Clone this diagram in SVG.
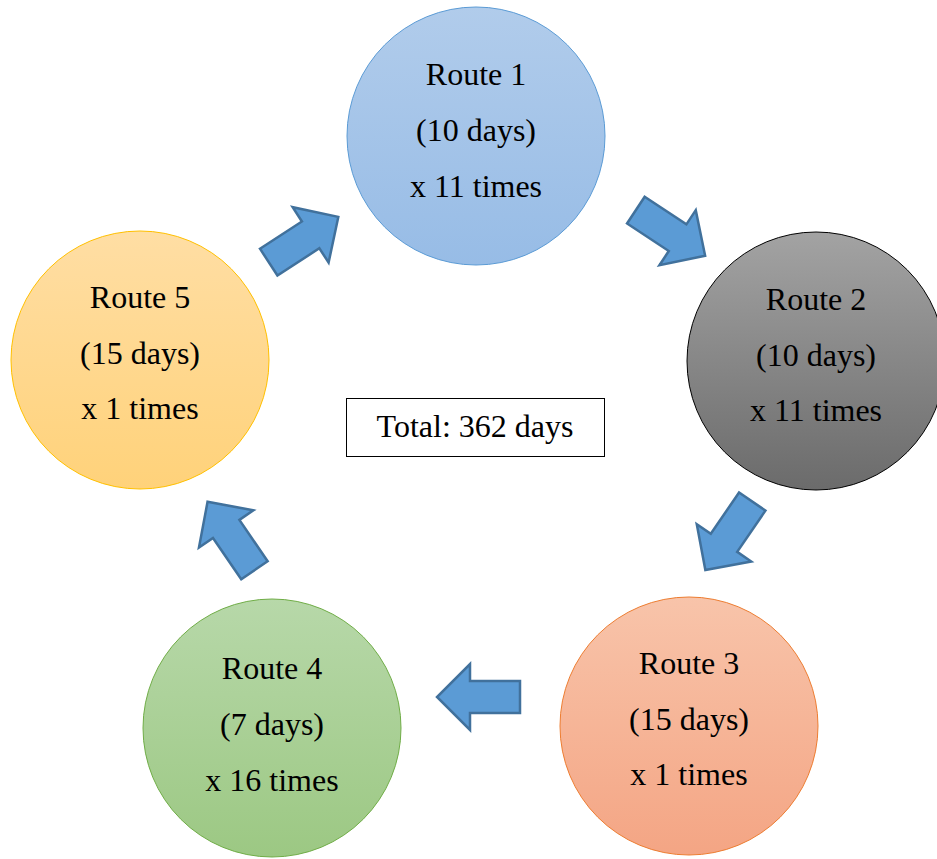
<svg xmlns="http://www.w3.org/2000/svg" width="937" height="859" viewBox="0 0 937 859">
<defs>
<linearGradient id="g1" x1="0" y1="0" x2="0" y2="1"><stop offset="0" stop-color="#B1CCEB"/><stop offset="1" stop-color="#97BCE6"/></linearGradient>
<linearGradient id="g2" x1="0" y1="0" x2="0" y2="1"><stop offset="0" stop-color="#A3A3A3"/><stop offset="1" stop-color="#6B6B6B"/></linearGradient>
<linearGradient id="g3" x1="0" y1="0" x2="0" y2="1"><stop offset="0" stop-color="#F8C4AA"/><stop offset="1" stop-color="#F4A584"/></linearGradient>
<linearGradient id="g4" x1="0" y1="0" x2="0" y2="1"><stop offset="0" stop-color="#B7D8A9"/><stop offset="1" stop-color="#9CC883"/></linearGradient>
<linearGradient id="g5" x1="0" y1="0" x2="0" y2="1"><stop offset="0" stop-color="#FFDEA4"/><stop offset="1" stop-color="#FFD27A"/></linearGradient>
<path id="arr" d="M-41.5,-16 L8.5,-16 L8.5,-33 L41.5,0 L8.5,33 L8.5,16 L-41.5,16 Z"/>
</defs>
<style>
text{font-family:"Liberation Serif","Times New Roman",serif;font-size:32px;fill:#000;text-anchor:middle}
.a{fill:#5B9BD5;stroke:#41719C;stroke-width:2.5;stroke-linejoin:miter}
</style>
<rect width="937" height="859" fill="#fff"/>
<g id="connectors">
<use href="#arr" class="a" transform="translate(303.5,239.5) rotate(-33)"/>
<use href="#arr" class="a" transform="translate(670.5,233) rotate(33.4)"/>
<use href="#arr" class="a" transform="translate(728.8,535.8) rotate(124.4)"/>
<use href="#arr" class="a" transform="translate(478.5,697) rotate(180)"/>
<use href="#arr" class="a" transform="translate(231,536) rotate(235.6)"/>
</g>
<g id="route1">
<circle cx="476" cy="136" r="129" fill="url(#g1)" stroke="#5B9BD5" stroke-width="1"/>
<text x="476" y="85">Route 1</text><text x="476" y="141">(10 days)</text><text x="476" y="197">x 11 times</text>
</g>
<g id="route2">
<circle cx="816" cy="361" r="129" fill="url(#g2)" stroke="#000" stroke-width="1"/>
<text x="816" y="310">Route 2</text><text x="816" y="366">(10 days)</text><text x="816" y="421">x 11 times</text>
</g>
<g id="route3">
<circle cx="689" cy="726" r="129" fill="url(#g3)" stroke="#ED7D31" stroke-width="1"/>
<text x="689" y="674">Route 3</text><text x="689" y="730">(15 days)</text><text x="689" y="785">x 1 times</text>
</g>
<g id="route4">
<circle cx="272" cy="728" r="129" fill="url(#g4)" stroke="#70AD47" stroke-width="1"/>
<text x="272" y="679">Route 4</text><text x="272" y="735">(7 days)</text><text x="272" y="791">x 16 times</text>
</g>
<g id="route5">
<circle cx="140" cy="360" r="129" fill="url(#g5)" stroke="#FFC000" stroke-width="1"/>
<text x="140" y="308">Route 5</text><text x="140" y="364">(15 days)</text><text x="140" y="419">x 1 times</text>
</g>
<g id="total">
<rect x="346.5" y="398.5" width="258" height="58" fill="#fff" stroke="#000" stroke-width="1"/>
<text x="475" y="437">Total: 362 days</text>
</g>
</svg>
